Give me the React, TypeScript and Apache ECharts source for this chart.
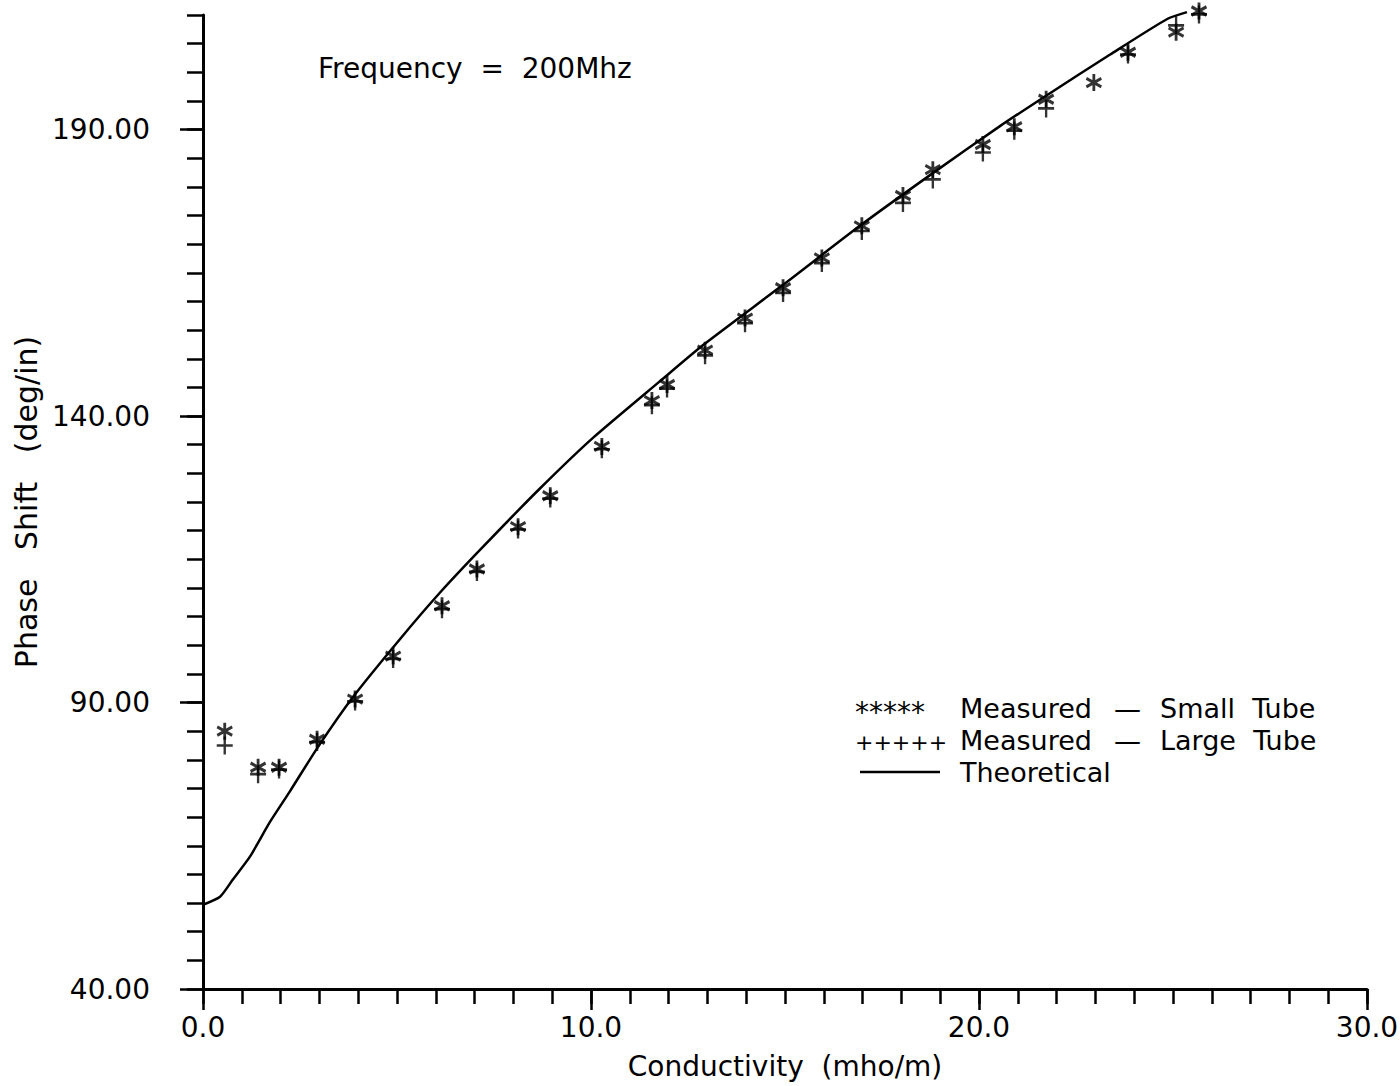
import React, { useEffect, useRef } from "react";
import * as echarts from "echarts";

const xMajorTicks = [0, 10, 20, 30];
const yMajorTicks = [40, 90, 140, 190];

const smallX = [0.56, 1.42, 1.96, 2.94, 3.92, 4.9, 6.16, 7.06, 8.12, 8.95, 10.28, 11.57, 11.96, 12.94, 13.97, 14.95, 15.95, 16.98, 18.04, 18.81, 20.1, 20.91, 21.73, 22.96, 23.84, 25.08, 25.67];
const smallY = [85.0, 78.7, 78.7, 83.6, 90.6, 98.1, 106.9, 113.3, 120.7, 126.1, 134.7, 142.7, 145.5, 151.5, 157.1, 162.4, 167.6, 173.2, 178.5, 183.0, 187.4, 190.5, 195.3, 198.2, 203.5, 207.0, 210.7];

const largeX = [0.56, 1.42, 1.96, 2.94, 3.92, 4.9, 6.16, 7.06, 8.12, 8.95, 10.28, 11.57, 11.96, 12.94, 13.97, 14.95, 15.95, 16.98, 18.04, 18.81, 20.1, 20.91, 21.73, 23.84, 25.08, 25.67];
const largeY = [82.5, 77.5, 78.3, 83.1, 90.2, 97.6, 106.3, 112.8, 120.2, 125.6, 134.2, 141.9, 144.8, 150.6, 156.2, 161.5, 166.7, 172.3, 177.2, 181.3, 186.0, 189.8, 193.7, 203.1, 208.2, 210.1];

const theoX = [0, 0.44, 0.77, 1.21, 1.73, 2.24, 2.94, 3.87, 5.08, 6.11, 7.22, 8.69, 10.05, 11.78, 12.89, 14.95, 16.93, 18.81, 20.54, 21.75, 23.38, 24.85, 25.36];
const theoY = [54.7, 56.1, 59.1, 63.1, 69.2, 74.5, 82.0, 91.0, 101.1, 109.2, 117.2, 127.4, 136.2, 146.1, 152.4, 162.9, 173.2, 182.4, 190.6, 196.0, 203.1, 209.3, 210.5];

const FONT = '"DejaVu Sans", sans-serif';
const STAR = "path://M0,-10L0,10M-8.66,-5L8.66,5M-8.66,5L8.66,-5";
const PLUS = "path://M0,-10L0,10M-10,0L10,0";

export default function App() {
  const ref = useRef<HTMLDivElement>(null);
  useEffect(() => {
    document.body.style.margin = "0";
    const chart = echarts.init(ref.current!, null, { renderer: "svg" });
    const axisCommonX = { type: "value", min: 0, max: 30, position: "bottom", splitLine: { show: false } };
    const axisCommonY = { type: "value", min: 40, max: 210, position: "left", splitLine: { show: false } };
    const txt = (text: string, x: number, y: number, size = 27, lh = 27) => ({
      type: "text",
      x,
      y,
      style: { text, font: `${size}px ${FONT}`, fill: "#000", verticalAlign: "middle", lineHeight: lh },
    });
    const option: any = {
      animation: false,
      backgroundColor: "#fff",
      grid: { left: 203, right: 33, top: 15, bottom: 97, containLabel: false, outerBoundsMode: "none" },
      xAxis: [
        {
          ...axisCommonX,
          interval: 10,
          name: "Conductivity  (mho/m)",
          nameLocation: "middle",
          nameGap: 63,
          nameTextStyle: { fontFamily: FONT, fontSize: 28, color: "#000" },
          axisLine: { show: true, onZero: false, lineStyle: { color: "#000", width: 3 } },
          axisTick: { show: true, inside: false, length: 21, lineStyle: { color: "#000", width: 2.5 } },
          axisLabel: {
            show: true,
            margin: 24,
            fontFamily: FONT,
            fontSize: 28,
            color: "#000",
            formatter: (v: number) => (xMajorTicks.includes(v) ? v.toFixed(1) : ""),
          },
        },
        {
          ...axisCommonX,
          interval: 1,
          axisLine: { show: false },
          axisTick: { show: true, inside: false, length: 15, lineStyle: { color: "#000", width: 2.5 } },
          axisLabel: { show: false },
        },
      ],
      yAxis: [
        {
          ...axisCommonY,
          name: "Phase   Shift   (deg/in)",
          nameLocation: "middle",
          nameGap: 156,
          nameRotate: 90,
          nameTextStyle: { fontFamily: FONT, fontSize: 30, color: "#000" },
          axisLine: { show: true, onZero: false, lineStyle: { color: "#000", width: 3 } },
          axisTick: { show: true, inside: false, length: 23, customValues: yMajorTicks, lineStyle: { color: "#000", width: 2.5 } },
          axisLabel: {
            show: true,
            margin: 53,
            fontFamily: FONT,
            fontSize: 28,
            color: "#000",
            customValues: yMajorTicks,
            formatter: (v: number) => v.toFixed(2),
          },
        },
        {
          ...axisCommonY,
          interval: 5,
          axisLine: { show: false },
          axisTick: { show: true, inside: false, length: 16, lineStyle: { color: "#000", width: 2.5 } },
          axisLabel: { show: false },
        },
      ],
      series: [
        {
          name: "Theoretical",
          type: "line",
          xAxisIndex: 0,
          yAxisIndex: 0,
          data: theoX.map((x, i) => [x, theoY[i]]),
          showSymbol: false,
          smooth: 0.2,
          clip: false,
          lineStyle: { color: "#000", width: 2.5 },
        },
        {
          name: "Measured - Small Tube",
          type: "scatter",
          xAxisIndex: 0,
          yAxisIndex: 0,
          data: smallX.map((x, i) => [x, smallY[i]]),
          symbol: STAR,
          symbolSize: [15, 17],
          clip: false,
          itemStyle: { color: "rgba(0,0,0,0)", borderColor: "#000", borderWidth: 3 },
        },
        {
          name: "Measured - Large Tube",
          type: "scatter",
          xAxisIndex: 0,
          yAxisIndex: 0,
          data: largeX.map((x, i) => [x, largeY[i]]),
          symbol: PLUS,
          symbolSize: [16, 18],
          clip: false,
          itemStyle: { color: "rgba(0,0,0,0)", borderColor: "#000", borderWidth: 2.5 },
        },
      ],
      graphic: [
        txt("Frequency  =  200Mhz", 318, 68, 28, 28),
        txt("*****", 855, 712, 28, 24),
        txt("Measured", 960, 708),
        txt("—", 1114, 708),
        txt("Small  Tube", 1160, 708),
        txt("+++++", 855, 742, 22, 22),
        txt("Measured", 960, 740),
        txt("—", 1114, 740),
        txt("Large  Tube", 1160, 740),
        { type: "line", shape: { x1: 860, y1: 772, x2: 940, y2: 772 }, style: { stroke: "#000", lineWidth: 2.5 } },
        txt("Theoretical", 960, 772),
      ],
    };
    chart.setOption(option);
    return () => chart.dispose();
  }, []);
  return <div ref={ref} style={{ width: 1400, height: 1086 }} />;
}
